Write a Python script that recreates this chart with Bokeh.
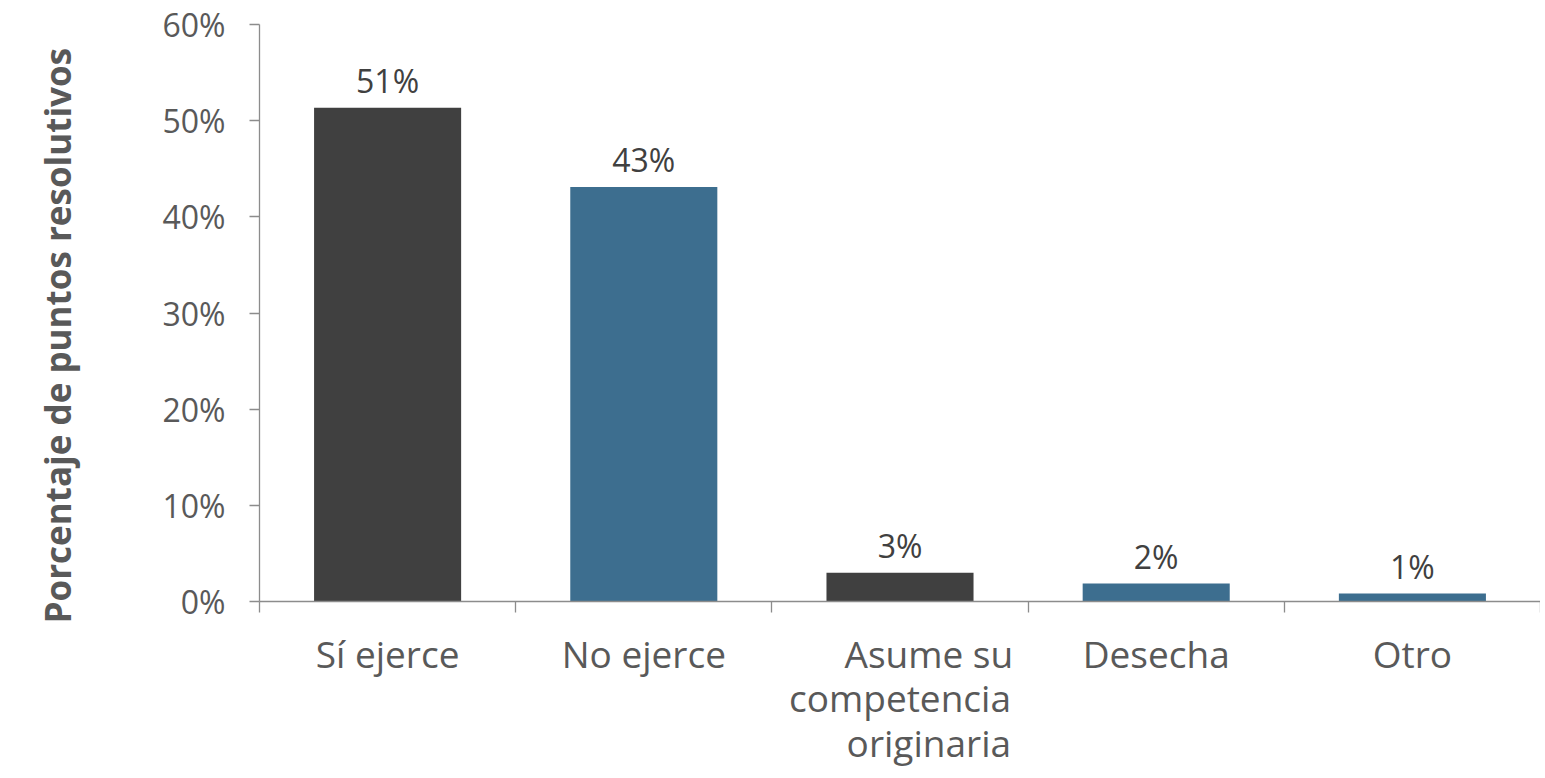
from bokeh.plotting import figure
from bokeh.models import Range1d, FixedTicker, NumeralTickFormatter, ColumnDataSource
from bokeh.embed import file_html
from bokeh.resources import INLINE
from bokeh.core.properties import value

categories = ["Sí ejerce", "No ejerce", "Asume su\ncompetencia\noriginaria", "Desecha", "Otro"]
shares = [0.5135, 0.431, 0.030, 0.0187, 0.0083]
labels = ["51%", "43%", "3%", "2%", "1%"]
bar_colors = ["#404040", "#3D6E8F", "#404040", "#3D6E8F", "#3D6E8F"]
y_ticks = [0, 0.1, 0.2, 0.3, 0.4, 0.5, 0.6]
y_title = "Porcentaje de puntos resolutivos"

NBSP = "\u00a0"
# style: leading non-breaking spaces so the lines of a wrapped label sit right-aligned,
# trailing ones so the rotated axis title sits a little lower, as in the reference
LINE_PAD = {2: [6, 0, 6]}
TITLE_PAD = 5


def styled_label(i, cat):
    lines = cat.split("\n")
    pads = LINE_PAD.get(i, [0] * len(lines))
    return "\n".join(NBSP * k + ln for k, ln in zip(pads, lines))


n = len(categories)
centers = [i + 0.5 for i in range(n)]
src = ColumnDataSource(dict(x=centers, top=shares, lab=labels, color=bar_colors))

FONT = "Open Sans"
GRAY_TXT = "#595959"
p = figure(width=1540, height=771, output_backend="svg", toolbar_location=None,
           x_range=Range1d(0, n), y_range=Range1d(0, 0.6),
           min_border_left=259, min_border_right=0, min_border_top=24, min_border_bottom=165)
p.outline_line_color = None
p.xgrid.grid_line_color = None
p.ygrid.grid_line_color = None
p.background_fill_color = "white"
p.border_fill_color = "white"

p.vbar(x="x", top="top", bottom=0, width=0.574, color="color", source=src, line_color=None)
p.text(x="x", y="top", text="lab", source=src, text_align="center", text_baseline="bottom",
       y_offset=-6, text_font=value(FONT), text_font_size="32px", text_color="#404040")

axis_gray = "#8C8C8C"
yax = p.yaxis[0]
yax.ticker = FixedTicker(ticks=y_ticks, minor_ticks=[])
yax.formatter = NumeralTickFormatter(format="0%")
yax.axis_line_color = axis_gray
yax.axis_line_width = 1.3
yax.major_tick_line_color = axis_gray
yax.major_tick_line_width = 1.3
yax.major_tick_out = 10
yax.major_tick_in = 0
yax.major_label_standoff = 24
yax.major_label_text_font = FONT
yax.major_label_text_font_size = "32px"
yax.major_label_text_color = GRAY_TXT
yax.axis_label = y_title + NBSP * TITLE_PAD
yax.axis_label_text_font = FONT
yax.axis_label_text_font_style = "bold"
yax.axis_label_text_font_size = "35px"
yax.axis_label_text_color = GRAY_TXT
yax.axis_label_standoff = 78

xax = p.xaxis[0]
xax.ticker = FixedTicker(ticks=centers, minor_ticks=list(range(n + 1)))
xax.major_label_overrides = {c: styled_label(i, cat) for i, (c, cat) in enumerate(zip(centers, categories))}
xax.axis_line_color = axis_gray
xax.axis_line_width = 1.3
xax.major_tick_line_color = None
xax.major_tick_out = 0
xax.major_tick_in = 0
xax.minor_tick_line_color = axis_gray
xax.minor_tick_line_width = 1.3
xax.minor_tick_out = 11
xax.minor_tick_in = 0
xax.major_label_standoff = 15
xax.major_label_text_font = FONT
xax.major_label_text_font_size = "37px"
xax.major_label_text_color = GRAY_TXT
xax.major_label_text_line_height = 0.88

open("out.html", "w").write(file_html(p, INLINE))
